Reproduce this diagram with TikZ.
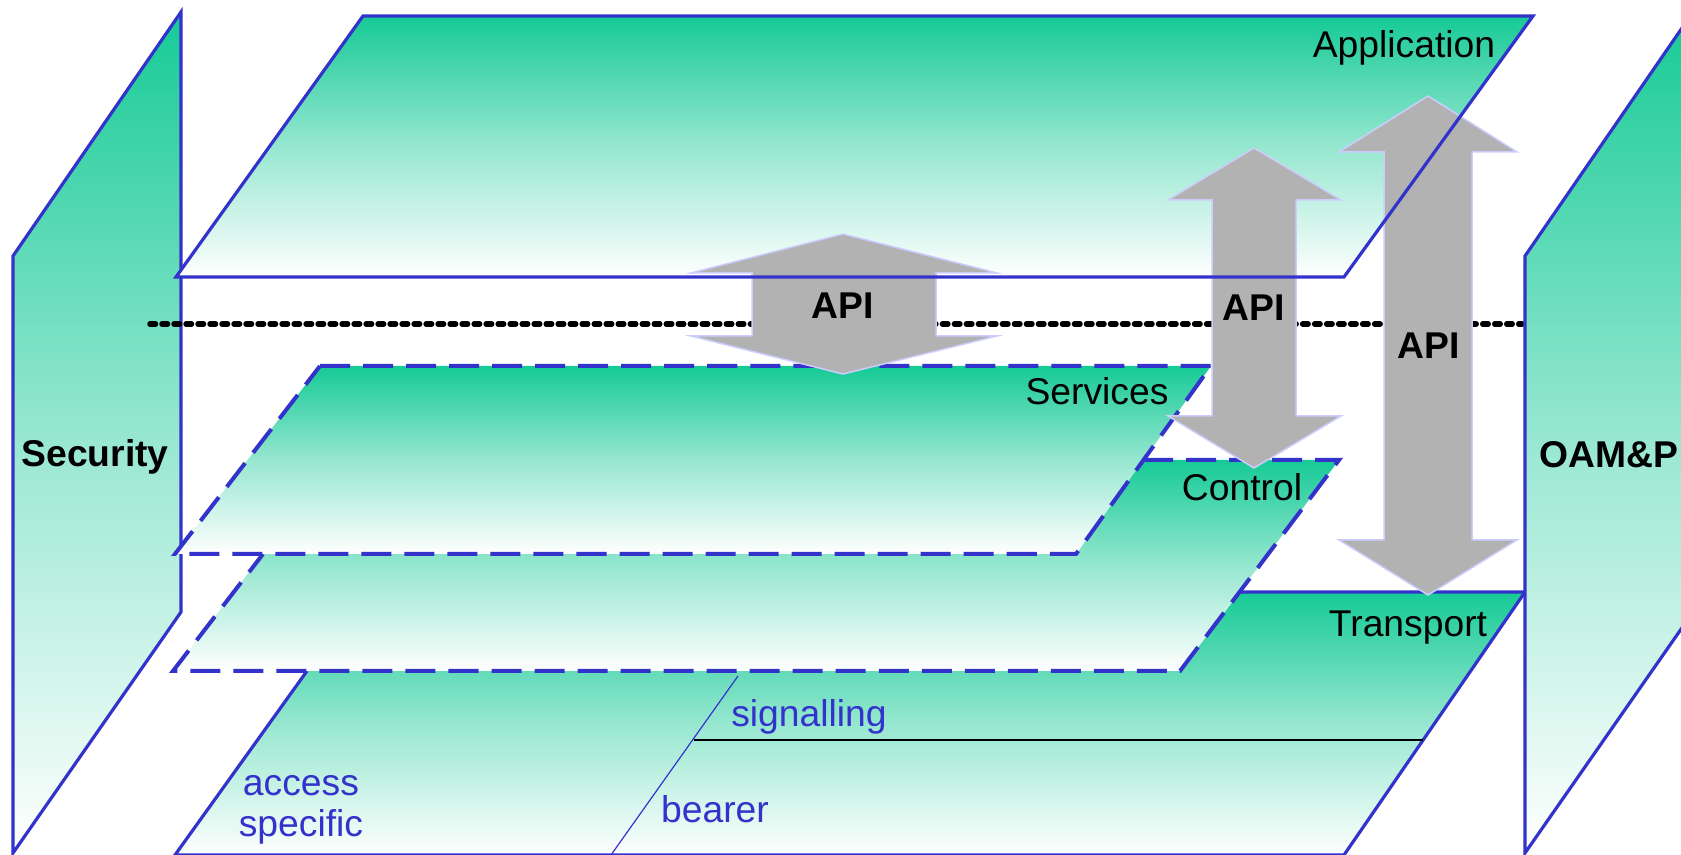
\documentclass[tikz,border=0pt]{standalone}
\usepackage{fontspec}
\setmainfont{Liberation Sans}
\definecolor{edgeblue}{RGB}{51,51,204}
\definecolor{layerteal}{RGB}{22,202,150}
\definecolor{apigray}{RGB}{178,178,178}
\definecolor{apiedge}{RGB}{204,204,255}
\tikzset{
  layerfill/.style={top color=layerteal, bottom color=white, middle color=layerteal!45!white},
  solidedge/.style={draw=edgeblue, line width=0.032cm, line join=miter},
  dashededge/.style={draw=edgeblue, line width=0.04cm, dash pattern=on 0.3cm off 0.13cm},
  apiarrow/.style={fill=apigray, draw=apiedge, line width=0.015cm},
  lbl/.style={inner sep=0pt, anchor=base, font=\fontsize{10.6}{12.7}\selectfont},
  boldlbl/.style={lbl, font=\fontsize{10.6}{12.7}\selectfont\bfseries},
  bluelbl/.style={lbl, text=edgeblue},
  dotline/.style={draw=black, line width=0.055cm, dash pattern=on 0.055cm off 0.065cm, line cap=round}
}
\begin{document}
\begin{tikzpicture}[x=0.01cm, y=-0.01cm]
\useasboundingbox (0,0) rectangle (1681,855);
\clip (0,0) rectangle (1681,855);

% Security side panel
\path[layerfill] (13,256) -- (181,12) -- (181,612) -- (13,853) -- cycle;
\draw[solidedge] (13,256) -- (181,12) -- (181,612) -- (13,853) -- cycle;

% Transport layer (L-shaped)
\path[layerfill] (1240,592) -- (1525,592) -- (1344,855) -- (175,855) -- (307,671) -- (1180,671) -- cycle;
\draw[solidedge] (1240,592) -- (1525,592) -- (1344,855) -- (175,855) -- (307,671);
\draw[edgeblue, line width=0.012cm] (738,676) -- (611,855);
\draw[black, line width=0.015cm] (694,740) -- (1423,740);

% Control layer (L-shaped, dashed)
\path[layerfill] (263,554) -- (1076,554) -- (1143,460) -- (1339,460) -- (1180,671) -- (173,671) -- cycle;
\draw[dashededge] (1143,460) -- (1339,460) -- (1180,671) -- (173,671) -- (263,554);

% Services layer (dashed)
\path[layerfill] (320,366) -- (1211,366) -- (1076,554) -- (175,554) -- cycle;
\draw[dashededge] (320,366) -- (1211,366) -- (1076,554) -- (175,554) -- cycle;

% Application layer fill
\path[layerfill] (176,277) -- (363,16) -- (1533,16) -- (1344,277) -- cycle;

% Separation line
\coordinate (sepL) at (150,324);
\coordinate (sepR) at (1522,324);
\draw[dotline] (sepL) -- (sepR);

% OAM&P side panel
\path[layerfill] (1525,256) -- (1693,12) -- (1693,612) -- (1525,853) -- cycle;
\draw[solidedge] (1525,256) -- (1693,12) -- (1693,612) -- (1525,853) -- cycle;

% API arrows
\draw[apiarrow] (843,234) -- (997,273) -- (936,273) -- (936,336) -- (997,336) -- (843,374)
  -- (691,336) -- (752,336) -- (752,273) -- (691,273) -- cycle;
\draw[apiarrow] (1254,148) -- (1341,200) -- (1296,200) -- (1296,416) -- (1341,416) -- (1254,468)
  -- (1168,416) -- (1212,416) -- (1212,200) -- (1168,200) -- cycle;
\draw[apiarrow] (1428,96) -- (1517,152) -- (1472,152) -- (1472,540) -- (1517,540) -- (1428,595)
  -- (1339,540) -- (1384,540) -- (1384,152) -- (1339,152) -- cycle;

% Application layer outline
\draw[solidedge] (176,277) -- (363,16) -- (1533,16) -- (1344,277) -- cycle;

% Labels
\node[lbl] (application) at (1404,58) {Application};
\node[lbl] (services) at (1097,405) {Services};
\node[lbl] (control) at (1242,501) {Control};
\node[lbl] (transport) at (1408,637) {Transport};
\node[boldlbl] (security) at (95,467) {Security};
\node[boldlbl] (oamp) at (1609,468) {OAM\&P};
\node[boldlbl] (api1) at (843,319) {API};
\node[boldlbl] (api2) at (1254,321) {API};
\node[boldlbl] (api3) at (1429,359) {API};
\node[bluelbl] (signalling) at (809,727) {signalling};
\node[bluelbl] (bearer) at (715,822) {bearer};
\node[bluelbl] (access) at (301,795) {access};
\node[bluelbl] (specific) at (301,837) {specific};
\end{tikzpicture}
\end{document}
